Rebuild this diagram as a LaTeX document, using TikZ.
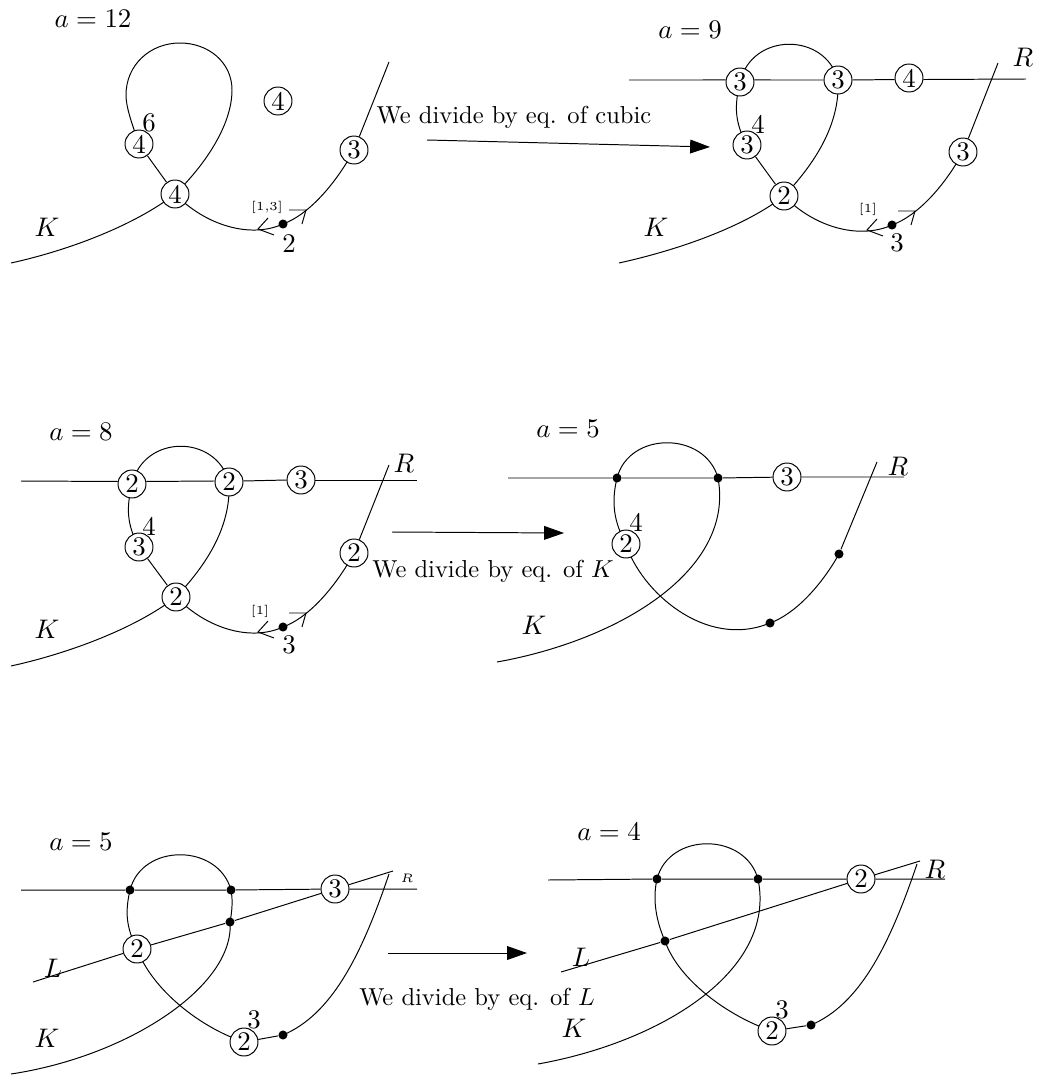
\documentclass[tikz,border=0pt]{standalone}
\usetikzlibrary{arrows.meta,backgrounds}
\newcommand{\labelsize}{\fontsize{10.95}{13}\selectfont}
\tikzset{
  mult/.style={draw, circle, fill=white, inner sep=0pt, minimum size=11.4pt, font=\labelsize},
  pnt/.style={circle, fill=black, inner sep=0pt, minimum size=3.7pt},
  lbl/.style={inner sep=0pt, font=\labelsize},
  small/.style={inner sep=0pt, font=\tiny},
  txt/.style={inner sep=0pt},
  bigarr/.style={-{Triangle[length=8.1pt,width=5.6pt]}}
}
\newcommand{\flowmarks}[1]{
  \draw ([shift={(-15,-6)}]#1.center) -- ([shift={(-25,5)}]#1.center) -- ([shift={(-9,11)}]#1.center);
  \draw ([shift={(6,-14)}]#1.center) -- ([shift={(23,-14)}]#1.center) -- ([shift={(19,0)}]#1.center);
}
\begin{document}
\begin{tikzpicture}[x=0.4077pt, y=-0.4077pt]
  \useasboundingbox (0,0) rectangle (1038,1075);

  % first row, left
  \node[lbl] (val1) at (93,19) {$a=12$};
  \node[lbl] (nameK1) at (47,227) {$K$};
  \node[mult] (cr1) at (175,194) {4};
  \node[mult] (lf1) at (139,144) {4};
  \node[mult] (rt1) at (354,150) {3};
  \node[mult] (free1) at (278,101) {4};
  \node[pnt] (pt1) at (283,224) {};
  \node[lbl] (six1) at (149,123) {6};
  \node[lbl] (two1) at (289,244) {2};
  \node[small] (br1) at (267,207) {[1,3]};
  \coordinate (ks1) at (11,263);
  \coordinate (top1) at (180,43);
  \coordinate (east1) at (232,90);
  \coordinate (west1) at (126,95);
  \coordinate (end1) at (389,62);
  \begin{pgfonlayer}{background}
    \draw (ks1) .. controls +(59,-13) and +(-40,31) .. (cr1.center);
    \draw (cr1.center) .. controls +(30,-29) and +(0,35) .. (east1) .. controls +(0,-28) and +(28,0) .. (top1)
       .. controls +(-30,0) and +(0,-30) .. (west1) .. controls +(0,14) and +(-5,-15) .. (lf1.center);
    \draw (cr1.center) .. controls +(30,31) and +(-33,15) .. (pt1.center);
    \draw (pt1.center) .. controls +(25,-9) and +(-19,35) .. (rt1.center);
  \end{pgfonlayer}
  \draw (lf1) -- (cr1);
  \draw (rt1) -- (end1);
  \flowmarks{pt1}

  % first arrow
  \node[txt] (txt1) at (514,117) {We divide by eq. of cubic};
  \coordinate (as1) at (427,140);
  \coordinate (ae1) at (710,147);
  \draw[bigarr] (as1) -- (ae1);

  % first row, right
  \node[lbl] (val2) at (690,30) {$a=9$};
  \node[lbl] (nameK2) at (656,227) {$K$};
  \node[lbl] (nameR2) at (1023,57) {$R$};
  \node[mult] (v2) at (740,82) {3};
  \node[mult] (u2) at (838,80) {3};
  \node[mult] (w2) at (909,78) {4};
  \node[mult] (lf2) at (747,145) {3};
  \node[mult] (cr2) at (784,196) {2};
  \node[mult] (rt2) at (963,152) {3};
  \node[pnt] (pt2) at (892,225) {};
  \node[lbl] (four2) at (758,124) {4};
  \node[lbl] (three2) at (897,243) {3};
  \node[small] (br2) at (868,209) {[1]};
  \coordinate (ks2) at (619,263);
  \coordinate (end2) at (998,63);
  \coordinate (hs2) at (629,80);
  \coordinate (he2) at (1026,79);
  \draw (hs2) -- (v2.172);
  \draw (v2.8) -- (u2.180);
  \draw (u2.0) -- (w2.186);
  \draw (w2.354) -- (he2);
  \begin{pgfonlayer}{background}
    \draw (ks2) .. controls +(59,-13) and +(-40,31) .. (cr2.center);
    \draw (v2.center) .. controls +(12,-50) and +(-13,-48) .. (u2.center);
    \draw (u2.center) .. controls +(2,40) and +(36,-38) .. (cr2.center);
    \draw (v2.center) .. controls +(-6,25) and +(-12,-22) .. (lf2.center);
    \draw (cr2.center) .. controls +(30,31) and +(-33,15) .. (pt2.center);
    \draw (pt2.center) .. controls +(25,-9) and +(-19,35) .. (rt2.center);
  \end{pgfonlayer}
  \draw (lf2) -- (cr2);
  \draw (rt2) -- (end2);
  \flowmarks{pt2}

  % second row, left
  \node[lbl] (val3) at (81,432) {$a=8$};
  \node[lbl] (nameK3) at (47,629) {$K$};
  \node[lbl] (nameR3) at (404,463) {$R$};
  \node[mult] (v3) at (132,484) {2};
  \node[mult] (u3) at (229,482) {2};
  \node[mult] (w3) at (301,480) {3};
  \node[mult] (lf3) at (139,547) {3};
  \node[mult] (cr3) at (176,597) {2};
  \node[mult] (rt3) at (354,553) {2};
  \node[pnt] (pt3) at (283,627) {};
  \node[lbl] (four3) at (149,526) {4};
  \node[lbl] (three3) at (289,645) {3};
  \node[small] (br3) at (260,611) {[1]};
  \coordinate (ks3) at (11,666);
  \coordinate (end3) at (389,465);
  \coordinate (hs3) at (21,481);
  \coordinate (he3) at (417,480);
  \draw (hs3) -- (v3.170);
  \draw (v3.10) -- (u3.176);
  \draw (u3.4) -- (w3.180);
  \draw (w3.0) -- (he3);
  \begin{pgfonlayer}{background}
    \draw (ks3) .. controls +(59,-13) and +(-40,31) .. (cr3.center);
    \draw (v3.center) .. controls +(12,-50) and +(-13,-48) .. (u3.center);
    \draw (u3.center) .. controls +(2,40) and +(36,-38) .. (cr3.center);
    \draw (v3.center) .. controls +(-6,25) and +(-12,-22) .. (lf3.center);
    \draw (cr3.center) .. controls +(30,31) and +(-33,15) .. (pt3.center);
    \draw (pt3.center) .. controls +(25,-9) and +(-19,35) .. (rt3.center);
  \end{pgfonlayer}
  \draw (lf3) -- (cr3);
  \draw (rt3) -- (end3);
  \flowmarks{pt3}

  % second arrow
  \node[txt] (txt2) at (493,571) {We divide by eq. of $K$};
  \coordinate (as2) at (392,532);
  \coordinate (ae2) at (564,533);
  \draw[bigarr] (as2) -- (ae2);

  % second row, right
  \node[lbl] (val4) at (568,429) {$a=5$};
  \node[lbl] (nameK4) at (534,625) {$K$};
  \node[lbl] (nameR4) at (898,466) {$R$};
  \node[pnt] (v4) at (617,478) {};
  \node[pnt] (u4) at (718,478) {};
  \node[mult] (w4) at (787,477) {3};
  \node[mult] (lf4) at (626,544) {2};
  \node[pnt] (pt4) at (770,623) {};
  \node[pnt] (rt4) at (839,554) {};
  \node[lbl] (four4) at (636,522) {4};
  \coordinate (ks4) at (497,662);
  \coordinate (end4) at (877,462);
  \coordinate (hs4) at (508,478);
  \coordinate (he4) at (904,477);
  \draw (hs4) -- (v4) -- (u4) -- (w4) -- (he4);
  \begin{pgfonlayer}{background}
    \draw (v4.center) .. controls +(12,-47) and +(-13,-47) .. (u4.center);
    \draw (v4.center) .. controls +(-6,25) and +(-12,-22) .. (lf4.center);
    \draw (u4.center) .. controls +(17,92) and +(123,-22) .. (ks4);
    \draw (lf4.center) .. controls +(14,46) and +(-65,27) .. (pt4.center);
    \draw (pt4.center) .. controls +(25,-9) and +(-18,32) .. (rt4.center);
  \end{pgfonlayer}
  \draw (rt4) -- (end4);

  % third row, left
  \node[lbl] (val5) at (81,842) {$a=5$};
  \node[lbl] (nameK5) at (47,1038) {$K$};
  \node[lbl] (nameL5) at (53,968) {$L$};
  \node[small] (nameR5) at (407,878) {$R$};
  \node[pnt] (v5) at (130,890) {};
  \node[pnt] (u5) at (231,890) {};
  \node[mult] (w5) at (335,889) {3};
  \node[mult] (lf5) at (137,949) {2};
  \node[pnt] (m5) at (230,922) {};
  \node[mult] (lo5) at (244,1042) {2};
  \node[pnt] (pt5) at (283,1035) {};
  \node[lbl] (three5) at (254,1020) {3};
  \coordinate (ks5) at (11,1074);
  \coordinate (end5) at (389,874);
  \coordinate (hs5) at (21,890);
  \coordinate (he5) at (417,889);
  \coordinate (ls5) at (33,982);
  \coordinate (le5) at (393,871);
  \draw (hs5) -- (v5) -- (u5) -- (w5) -- (he5);
  \draw (ls5) -- (lf5) -- (m5) -- (w5) -- (le5);
  \begin{pgfonlayer}{background}
    \draw (v5.center) .. controls +(12,-47) and +(-13,-47) .. (u5.center);
    \draw (v5.center) .. controls +(-5,22) and +(-11,-22) .. (lf5.center);
    \draw (u5.center) .. controls +(2,10) and +(2,-10) .. (m5.center);
    \draw (m5.center) .. controls +(5,63) and +(119,-18) .. (ks5);
    \draw (lf5.center) .. controls +(15,40) and +(-45,-15) .. (lo5.center);
    \draw (pt5.center) .. controls +(47,-20) and +(-29,86) .. (end5);
  \end{pgfonlayer}
  \draw (lo5) -- (pt5);

  % third arrow
  \node[txt] (txt3) at (477,999) {We divide by eq. of $L$};
  \coordinate (as3) at (388,953);
  \coordinate (ae3) at (527,953);
  \draw[bigarr] (as3) -- (ae3);

  % third row, right
  \node[lbl] (val6) at (609,832) {$a=4$};
  \node[lbl] (nameK6) at (574,1028) {$K$};
  \node[lbl] (nameL6) at (581,957) {$L$};
  \node[lbl] (nameR6) at (935,869) {$R$};
  \node[pnt] (v6) at (657,879) {};
  \node[pnt] (u6) at (758,879) {};
  \node[mult] (w6) at (861,879) {2};
  \node[pnt] (lf6) at (665,941) {};
  \node[mult] (lo6) at (772,1031) {2};
  \node[pnt] (pt6) at (811,1025) {};
  \node[lbl] (three6) at (782,1010) {3};
  \coordinate (ks6) at (538,1064);
  \coordinate (end6) at (917,864);
  \coordinate (hs6) at (548,880);
  \coordinate (he6) at (945,879);
  \coordinate (ls6) at (561,972);
  \coordinate (le6) at (920,861);
  \draw (hs6) -- (v6) -- (u6) -- (w6) -- (he6);
  \draw (ls6) -- (lf6) -- (w6) -- (le6);
  \begin{pgfonlayer}{background}
    \draw (v6.center) .. controls +(12,-47) and +(-13,-47) .. (u6.center);
    \draw (v6.center) .. controls +(-5,22) and +(-8,-18) .. (lf6.center);
    \draw (u6.center) .. controls +(19,92) and +(123,-22) .. (ks6);
    \draw (lf6.center) .. controls +(13,38) and +(-45,-15) .. (lo6.center);
    \draw (pt6.center) .. controls +(47,-20) and +(-29,86) .. (end6);
  \end{pgfonlayer}
  \draw (lo6) -- (pt6);
\end{tikzpicture}
\end{document}
